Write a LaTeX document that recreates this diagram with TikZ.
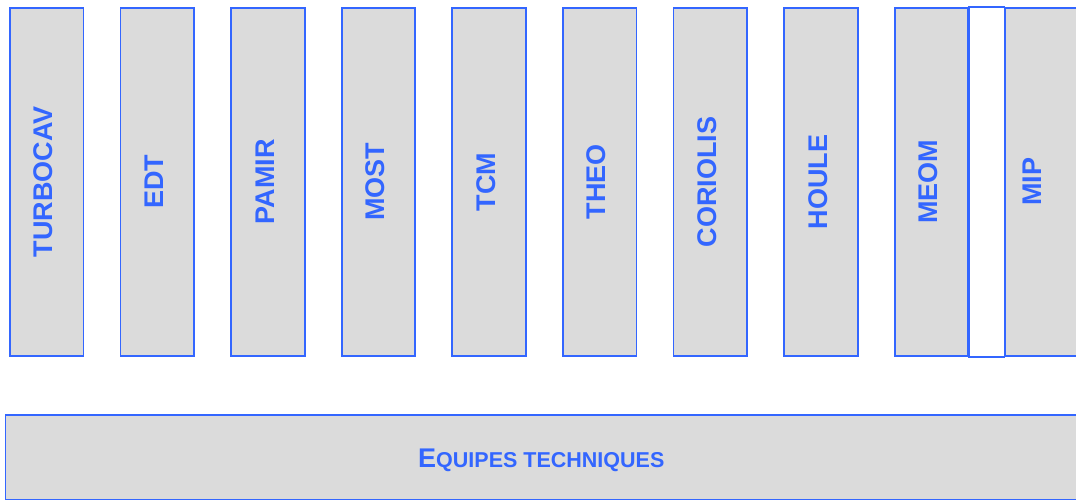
\documentclass[tikz,border=0pt]{standalone}
\usepackage{fontspec}
\setmainfont{Liberation Sans}
\definecolor{teamblue}{RGB}{51,102,255}
\definecolor{boxgrey}{RGB}{219,219,219}
\tikzset{
  team/.style={draw=teamblue, fill=boxgrey, line width=1.8pt, inner sep=0pt,
    minimum width=73.5pt, minimum height=348pt},
  teamlabel/.style={text=teamblue, font=\bfseries\fontsize{27}{27}\selectfont, rotate=90},
  techbox/.style={draw=teamblue, fill=boxgrey, line width=1.6pt, inner sep=0pt,
    minimum width=1072pt, minimum height=85pt},
}
\begin{document}
\begin{tikzpicture}[x=1pt, y=-1pt]
  \useasboundingbox (0,0) rectangle (1076,500);
  % vertical team columns
  \foreach \name [count=\i from 0] in {TURBOCAV,EDT,PAMIR,MOST,TCM,THEO,CORIOLIS,HOULE,MEOM,MIP} {
    \node[team, anchor=north west] (col\i) at ({9+\i*110.6}, 7) {};
  }
  % white link between MEOM and MIP
  \draw[draw=teamblue, fill=white, line width=1.8pt] (col8.north east) rectangle (col9.south west);
  % column labels
  \foreach \name [count=\i from 0] in {TURBOCAV,EDT,PAMIR,MOST,TCM,THEO,CORIOLIS,HOULE,MEOM} {
    \node[teamlabel] (lab\i) at ([xshift=-3pt]col\i.center) {\name};
  }
  \node[teamlabel] (lab9) at ([xshift=-10pt]col9.center) {MIP};
  % technical teams band
  \node[techbox, anchor=north west] (tech) at (4.5, 414) {};
  \node[text=teamblue, font=\bfseries] (techlab) at ([yshift=-3pt]tech.center)
    {{\fontsize{27}{27}\selectfont E}{\fontsize{21.5}{21.5}\selectfont QUIPES TECHNIQUES}};
\end{tikzpicture}
\end{document}
